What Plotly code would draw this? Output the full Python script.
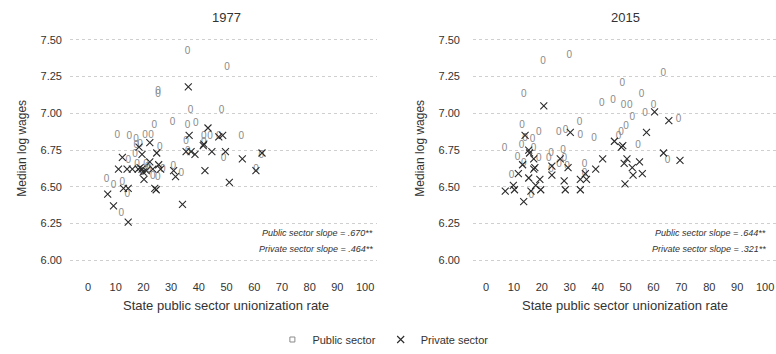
import plotly.graph_objects as go

# ---------------- data ----------------
pub77_x = [35.9, 50.2, 25.3, 25.3, 37.0, 48.2, 23.9, 30.5, 35.9, 38.9, 10.6, 14.9, 17.3, 20.6, 22.7,
           35.4, 41.8, 44.0, 47.2, 55.3, 17.4, 25.9, 17.0, 14.5, 17.7, 20.9, 23.4, 25.2, 33.7, 6.7,
           9.2, 12.4, 14.2, 12.0, 48.9, 62.5, 60.6, 30.8, 18.8, 22.0, 19.5, 21.5, 27.0, 41.8, 36.0]
pub77_y = [7.42, 7.31, 7.15, 7.13, 7.02, 7.02, 6.92, 6.94, 6.92, 6.93, 6.85, 6.84, 6.82, 6.85, 6.85,
           6.81, 6.84, 6.84, 6.84, 6.84, 6.78, 6.77, 6.72, 6.68, 6.65, 6.65, 6.57, 6.56, 6.59, 6.55,
           6.51, 6.53, 6.45, 6.32, 6.69, 6.71, 6.62, 6.64, 6.79, 6.62, 6.60, 6.63, 6.62, 6.80, 6.74]

pri77_x = [36.2, 43.3, 36.5, 48.6, 47.2, 22.3, 41.8, 41.6, 18.4, 35.4, 37.2, 38.6, 44.7, 49.6, 55.7,
           62.8, 19.5, 24.8, 12.4, 22.3, 11.0, 16.0, 18.1, 18.8, 19.5, 23.4, 26.2, 25.5, 20.2, 19.9,
           30.9, 31.6, 24.1, 24.6, 12.8, 14.5, 7.1, 9.2, 14.5, 34.1, 42.2, 51.0, 60.6, 14.1, 21.0]
pri77_y = [7.18, 6.90, 6.85, 6.85, 6.84, 6.80, 6.79, 6.78, 6.77, 6.74, 6.74, 6.72, 6.74, 6.74, 6.69,
           6.73, 6.72, 6.73, 6.70, 6.67, 6.62, 6.62, 6.62, 6.63, 6.62, 6.62, 6.62, 6.65, 6.55, 6.60,
           6.61, 6.57, 6.49, 6.48, 6.49, 6.49, 6.45, 6.37, 6.26, 6.38, 6.61, 6.53, 6.61, 6.62, 6.61]

pub15_x = [20.4, 29.8, 63.5, 48.8, 13.5, 55.7, 41.5, 45.5, 49.3, 51.5, 60.0, 57.0, 52.4, 69.0, 33.5,
           12.9, 50.2, 18.9, 26.1, 28.5, 33.8, 38.7, 47.5, 48.4, 54.5, 65.0, 6.6, 12.7, 16.7, 17.0,
           11.3, 13.5, 18.9, 23.3, 22.5, 27.6, 28.0, 26.2, 23.3, 9.1, 16.2, 35.3, 35.3, 29.0, 14.0]
pub15_y = [7.35, 7.39, 7.27, 7.20, 7.13, 7.13, 7.07, 7.09, 7.05, 7.05, 7.05, 7.00, 6.97, 6.96, 6.94,
           6.92, 6.91, 6.87, 6.87, 6.88, 6.85, 6.83, 6.84, 6.87, 6.78, 6.68, 6.76, 6.78, 6.82, 6.76,
           6.70, 6.66, 6.69, 6.73, 6.69, 6.75, 6.69, 6.65, 6.62, 6.58, 6.44, 6.65, 6.59, 6.64, 6.83]

pri15_x = [20.7, 60.4, 65.5, 14.0, 30.2, 57.5, 46.0, 48.5, 49.0, 15.3, 15.6, 17.1, 26.6, 41.8, 50.5,
           49.5, 55.0, 63.6, 69.5, 13.1, 29.4, 23.6, 23.6, 11.6, 15.3, 17.5, 19.3, 17.8, 9.8, 10.2,
           6.9, 13.5, 28.0, 28.4, 33.8, 33.8, 36.0, 39.3, 52.4, 52.7, 56.0, 49.8, 16.1, 17.1, 35.6, 19.6]
pri15_y = [7.05, 7.01, 6.95, 6.85, 6.87, 6.87, 6.81, 6.77, 6.78, 6.75, 6.73, 6.69, 6.69, 6.69, 6.69,
           6.66, 6.67, 6.73, 6.68, 6.65, 6.63, 6.64, 6.58, 6.59, 6.56, 6.63, 6.55, 6.51, 6.51, 6.48,
           6.47, 6.40, 6.54, 6.48, 6.48, 6.55, 6.55, 6.62, 6.63, 6.58, 6.59, 6.52, 6.47, 6.62, 6.59, 6.48]

panel_titles = ["1977", "2015"]
slope_text = [["Public sector slope = .670**", "Private sector slope = .464**"],
              ["Public sector slope = .644**", "Private sector slope = .321**"]]
x_ticks = list(range(0, 101, 10))
y_ticks = [6.00, 6.25, 6.50, 6.75, 7.00, 7.25, 7.50]
y_tick_text = ["6.00", "6.25", "6.50", "6.75", "7.00", "7.25", "7.50"]

# ---------------- styling ----------------
FONT = "Liberation Sans, Arial, sans-serif"
TXT = "#333333"
PUB_COL = "#8a8a8a"
PRI_COL = "#2b2b2b"
GRID = "#cfcfcf"

W, H = 776, 354
TOP, BOT = 32, 284          # plot area in px
YR = [5.873, 7.553]

fig = go.Figure()

panels = [
    dict(px=pub77_x, py=pub77_y, vx=pri77_x, vy=pri77_y, xa="x", ya="y"),
    dict(px=pub15_x, py=pub15_y, vx=pri15_x, vy=pri15_y, xa="x2", ya="y2"),
]
for i, p in enumerate(panels):
    # public-sector states drawn with the "0" glyph, as in the reference
    fig.add_trace(go.Scatter(
        x=p["px"], y=p["py"], xaxis=p["xa"], yaxis=p["ya"], mode="text",
        text=["0"] * len(p["px"]), textposition="middle center",
        textfont=dict(family=FONT, size=10, color=PUB_COL),
        showlegend=False, hoverinfo="x+y", name="Public sector"))
    fig.add_trace(go.Scatter(
        x=p["vx"], y=p["vy"], xaxis=p["xa"], yaxis=p["ya"], mode="markers",
        marker=dict(symbol="x-thin-open", size=7, color=PRI_COL,
                    line=dict(width=1.1, color=PRI_COL)),
        showlegend=False, name="Private sector"))

# legend-only traces
fig.add_trace(go.Scatter(x=[None], y=[None], mode="markers", name="Public sector",
                         marker=dict(symbol="square-open", size=5, color=PUB_COL,
                                     line=dict(width=1, color=PUB_COL))))
fig.add_trace(go.Scatter(x=[None], y=[None], mode="markers", name="Private sector",
                         marker=dict(symbol="x-thin-open", size=7, color=PRI_COL,
                                     line=dict(width=1.1, color=PRI_COL))))

axis_common = dict(showline=False, zeroline=False, ticks="", showgrid=False,
                   tickfont=dict(family=FONT, size=11, color=TXT), automargin=False)
yaxis_common = dict(showline=False, zeroline=False, ticks="", showgrid=True,
                    gridcolor=GRID, gridwidth=1, griddash="3px,3px",
                    tickvals=y_ticks, ticktext=y_tick_text, range=YR,
                    tickfont=dict(family=FONT, size=11, color=TXT), automargin=False)

fig.update_layout(
    width=W, height=H,
    margin=dict(l=0, r=0, t=TOP, b=H - BOT),
    paper_bgcolor="white", plot_bgcolor="white",
    font=dict(family=FONT, color=TXT),
    xaxis=dict(domain=[70 / W, 377 / W], range=[-6.5, 104.3], tickvals=x_ticks, **axis_common),
    xaxis2=dict(domain=[473 / W, 1.0], range=[-4.66, 103.9], tickvals=x_ticks, **axis_common),
    yaxis=dict(anchor="x", ticklabelstandoff=7, **yaxis_common),
    yaxis2=dict(anchor="x2", ticklabelstandoff=12, **yaxis_common),
    legend=dict(orientation="h", x=0.351, xanchor="left", y=(BOT - 346) / (BOT - TOP),
                yanchor="middle", font=dict(family=FONT, size=11, color=TXT),
                bgcolor="rgba(0,0,0,0)", itemwidth=30, tracegroupgap=0),
)

def py(p):  # pixel y -> paper y
    return (BOT - p) / (BOT - TOP)

ann = []
centers = [226, 625]
ytitle_x = [22, 420]
slope_right = [375, 768]
for i in range(2):
    ann.append(dict(text=panel_titles[i], x=centers[i] / W, y=py(17), xref="paper", yref="paper",
                    showarrow=False, font=dict(family=FONT, size=13, color=TXT),
                    xanchor="center", yanchor="middle"))
    ann.append(dict(text="State public sector unionization rate", x=centers[i] / W, y=py(311),
                    xref="paper", yref="paper", showarrow=False,
                    font=dict(family=FONT, size=13, color=TXT), xanchor="center", yanchor="middle"))
    ann.append(dict(text="Median log wages", x=ytitle_x[i] / W, y=py(151), xref="paper",
                    yref="paper", showarrow=False, textangle=-90,
                    font=dict(family=FONT, size=12, color=TXT), xanchor="center", yanchor="middle"))
    for j, t in enumerate(slope_text[i]):
        ann.append(dict(text="<i>" + t + "</i>", x=slope_right[i] / W, y=py(237 + 16 * j),
                        xref="paper", yref="paper", showarrow=False,
                        font=dict(family=FONT, size=9, color=TXT),
                        xanchor="right", yanchor="middle"))
fig.update_layout(annotations=ann)

fig.write_html("out.html")
